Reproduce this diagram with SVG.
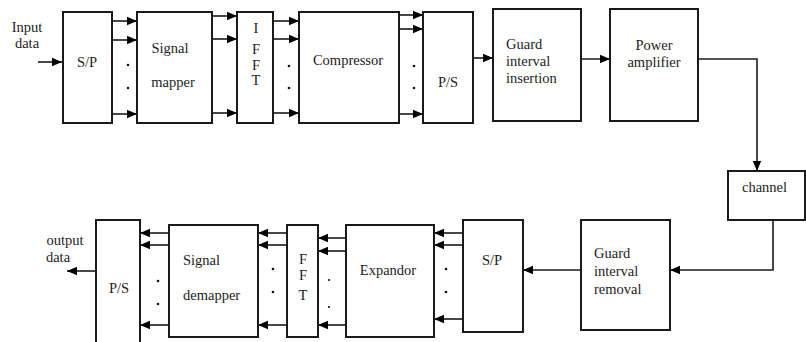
<svg xmlns="http://www.w3.org/2000/svg" width="806" height="342" viewBox="0 0 806 342">
<defs>
<marker id="ah" markerUnits="userSpaceOnUse" markerWidth="10" markerHeight="10" viewBox="0 0 10 10" refX="10" refY="5" orient="auto">
<path d="M0,0.8 L10,5 L0,9.2 Z" fill="#000"/>
</marker>
</defs>
<style>
.box{fill:#fff;stroke:#1a1a1a;stroke-width:2}
.ar{fill:none;stroke:#1a1a1a;stroke-width:1.6;marker-end:url(#ah)}
text{font-family:'Liberation Serif','Times New Roman','DejaVu Serif',serif;font-size:14.5px;fill:#222}
.c{text-anchor:middle}
.dot{fill:#111}
</style>
<rect width="806" height="342" fill="#fff"/>

<g id="connectors">
<path class="ar" d="M38,62 H62"/>
<path class="ar" d="M112,21 H137"/>
<path class="ar" d="M112,40 H137"/>
<path class="ar" d="M112,114 H137"/>
<path class="ar" d="M212,16 H237"/>
<path class="ar" d="M212,39 H237"/>
<path class="ar" d="M212,113 H237"/>
<path class="ar" d="M273,21 H299"/>
<path class="ar" d="M273,39 H299"/>
<path class="ar" d="M273,113 H299"/>
<path class="ar" d="M399,15 H423"/>
<path class="ar" d="M399,29 H423"/>
<path class="ar" d="M399,114 H423"/>
<path class="ar" d="M473,58 H493"/>
<path class="ar" d="M566,59 H610"/>
<path class="ar" d="M698,59 H757 V171"/>
<path class="ar" d="M773,220 V270 H670"/>
<path class="ar" d="M581,270 H523"/>
<path class="ar" d="M463,233 H434"/>
<path class="ar" d="M463,245 H434"/>
<path class="ar" d="M463,319 H434"/>
<path class="ar" d="M346,238 H318"/>
<path class="ar" d="M346,251 H318"/>
<path class="ar" d="M346,325 H318"/>
<path class="ar" d="M287,233 H258"/>
<path class="ar" d="M287,245 H258"/>
<path class="ar" d="M287,325 H258"/>
<path class="ar" d="M169,233 H140"/>
<path class="ar" d="M169,245 H140"/>
<path class="ar" d="M169,325 H140"/>
<path class="ar" d="M96,271 H67"/>
<circle class="dot" cx="128" cy="65" r="1.3"/>
<circle class="dot" cx="128" cy="88" r="1.3"/>
<circle class="dot" cx="289" cy="66" r="1.3"/>
<circle class="dot" cx="289" cy="88" r="1.3"/>
<circle class="dot" cx="414" cy="66" r="1.3"/>
<circle class="dot" cx="414" cy="88" r="1.3"/>
<circle class="dot" cx="446" cy="269" r="1.3"/>
<circle class="dot" cx="446" cy="292" r="1.3"/>
<circle class="dot" cx="329" cy="280" r="1.1"/>
<circle class="dot" cx="329" cy="307" r="1.1"/>
<circle class="dot" cx="273" cy="269" r="1.3"/>
<circle class="dot" cx="273" cy="292" r="1.3"/>
<circle class="dot" cx="158" cy="281" r="1.3"/>
<circle class="dot" cx="158" cy="304" r="1.3"/>
</g>

<g id="input-label">
<text x="27" y="32" class="c">Input</text>
<text x="27" y="48" class="c">data</text>
</g>
<g id="sp1">
<rect class="box" x="63" y="12" width="49" height="111"/>
<text x="87" y="67" class="c">S/P</text>
</g>
<g id="mapper">
<rect class="box" x="137" y="12" width="75" height="111"/>
<text x="170" y="53" class="c">Signal</text>
<text x="173" y="87" class="c">mapper</text>
</g>
<g id="ifft">
<rect class="box" x="237" y="12" width="36" height="111"/>
<text x="256" y="33" class="c">I</text>
<text x="256" y="54" class="c">F</text>
<text x="256" y="70" class="c">F</text>
<text x="256" y="85" class="c">T</text>
</g>
<g id="compressor">
<rect class="box" x="299" y="12" width="100" height="111"/>
<text x="348" y="65" class="c">Compressor</text>
</g>
<g id="ps1">
<rect class="box" x="423" y="12" width="50" height="111"/>
<text x="448" y="87" class="c">P/S</text>
</g>
<g id="guard-insert">
<rect class="box" x="493" y="9" width="88" height="112"/>
<text x="506" y="49">Guard</text>
<text x="506" y="66">interval</text>
<text x="506" y="83">insertion</text>
</g>
<g id="power">
<rect class="box" x="610" y="9" width="88" height="112"/>
<text x="654" y="50" class="c">Power</text>
<text x="654" y="67" class="c">amplifier</text>
</g>
<g id="channel">
<rect class="box" x="728" y="171" width="77" height="49"/>
<text x="742" y="192">channel</text>
</g>
<g id="guard-remove">
<rect class="box" x="581" y="220" width="89" height="110"/>
<text x="594" y="258">Guard</text>
<text x="594" y="276">interval</text>
<text x="594" y="294">removal</text>
</g>
<g id="sp2">
<rect class="box" x="463" y="220" width="60" height="112"/>
<text x="492" y="265" class="c">S/P</text>
</g>
<g id="expandor">
<rect class="box" x="346" y="225" width="88" height="112"/>
<text x="388" y="275" class="c">Expandor</text>
</g>
<g id="fft">
<rect class="box" x="287" y="225" width="31" height="112"/>
<text x="303" y="264" class="c">F</text>
<text x="303" y="280" class="c">F</text>
<text x="303" y="300" class="c">T</text>
</g>
<g id="demapper">
<rect class="box" x="169" y="225" width="89" height="112"/>
<text x="183" y="265">Signal</text>
<text x="183" y="300">demapper</text>
</g>
<g id="ps2">
<rect class="box" x="96" y="220" width="44" height="130"/>
<text x="119" y="293" class="c">P/S</text>
</g>
<g id="output-label">
<text x="65" y="245" class="c">output</text>
<text x="58" y="262" class="c">data</text>
</g>
</svg>
